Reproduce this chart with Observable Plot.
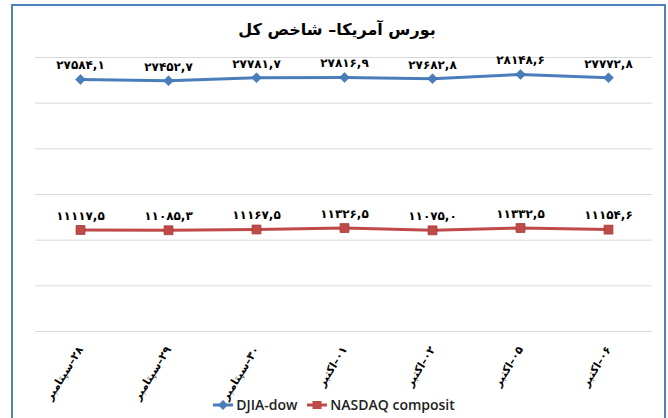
<!DOCTYPE html>
<html>
<head>
<meta charset="utf-8">
<script src="https://cdn.jsdelivr.net/npm/d3@7"></script>
<script src="https://cdn.jsdelivr.net/npm/@observablehq/plot@0.6"></script>
<style>
  html, body { margin: 0; padding: 0; background: #fff; }
  #wrap { position: relative; width: 668px; height: 418px; overflow: hidden; background: #fff; }
  #frame { position: absolute; left: 11px; top: 4px; width: 655px; height: 430px;
           border-left: 2px solid #4f81bd; border-top: 2px solid #4f81bd; border-right: 2px solid #4f81bd; box-sizing: border-box; }
  #title { position: absolute; left: 0; width: 674px; top: 20px; text-align: center;
           font-family: "DejaVu Sans", sans-serif; font-weight: bold; font-size: 16px; color: #000; direction: rtl; }
  #chart { position: absolute; left: 0; top: 0; }
  #legend { position: absolute; left: 0; width: 668px; top: 395px; text-align: center; font-family: "Open Sans", sans-serif;
            font-size: 14px; font-weight: 600; color: #222; }
  .item { display: inline-flex; align-items: center; margin: 0 5px; }
  .item svg { margin-right: 3px; }
</style>
</head>
<body>
<div id="wrap">
  <div id="frame"></div>
  <div id="chart"></div>
  <div id="title"></div>
  <div id="legend"></div>
</div>
<script>
const titleText = "بورس آمریکا– شاخص کل";
const categories = ["۲۸–سپتامبر", "۲۹–سپتامبر", "۳۰–سپتامبر", "۰۱–اکتبر", "۰۲–اکتبر", "۰۵–اکتبر", "۰۶–اکتبر"];
const djia = [27584.1, 27452.7, 27781.7, 27816.9, 27682.8, 28148.6, 27772.8];
const nasdaq = [11117.5, 11085.3, 11167.5, 11326.5, 11075.0, 11332.5, 11154.6];
const yTicks = [0, 5000, 10000, 15000, 20000, 25000, 30000];
const seriesNames = ["DJIA-dow", "NASDAQ composit"];
const seriesColors = ["#4a7ebb", "#be4b48"];

const faDigits = "۰۱۲۳۴۵۶۷۸۹";
const fmt = v => v.toFixed(1).replace(".", ",").replace(/\d/g, d => faDigits[+d]);

const dj = categories.map((c, i) => ({cat: c, v: djia[i]}));
const nq = categories.map((c, i) => ({cat: c, v: nasdaq[i]}));
const faFont = "DejaVu Sans, sans-serif";

const chart = Plot.plot({
  width: 668,
  height: 418,
  marginLeft: 35,
  marginRight: 16,
  marginTop: 57,
  marginBottom: 87,
  style: {background: "transparent", overflow: "visible"},
  x: {type: "point", domain: categories, padding: 0.5, label: null},
  y: {domain: [0, 30000], axis: null},
  marks: [
    Plot.gridY(yTicks, {stroke: "#d9d9d9", strokeOpacity: 1, strokeWidth: 1}),
    Plot.line(dj, {x: "cat", y: "v", stroke: seriesColors[0], strokeWidth: 3}),
    Plot.dot(dj, {x: "cat", y: "v", symbol: "diamond2", r: 4.5, fill: seriesColors[0], stroke: "#3d6da8", strokeWidth: 0.5}),
    Plot.line(nq, {x: "cat", y: "v", stroke: seriesColors[1], strokeWidth: 3}),
    Plot.dot(nq, {x: "cat", y: "v", symbol: "square", r: 5, fill: seriesColors[1], stroke: "#a33a37", strokeWidth: 0.8}),
    Plot.text(dj, {x: "cat", y: "v", text: d => fmt(d.v), dy: -14, fontWeight: "bold", fontSize: 12, fontFamily: faFont, fill: "#000"}),
    Plot.text(nq, {x: "cat", y: "v", text: d => fmt(d.v), dy: -14, fontWeight: "bold", fontSize: 12, fontFamily: faFont, fill: "#000"}),
    Plot.axisX({tickRotate: -58, tickSize: 0, tickPadding: 16, tickFormat: d => "\u200F" + d,
                fontWeight: "bold", fontSize: 11, fontFamily: faFont, fill: "#000", label: null})
  ]
});
document.getElementById("chart").appendChild(chart);
document.getElementById("title").textContent = titleText;

const legend = document.getElementById("legend");
seriesNames.forEach((name, i) => {
  const item = document.createElement("span");
  item.className = "item";
  const marker = i === 0
    ? `<path d="M10,1 L15,6 L10,11 L5,6 Z" fill="${seriesColors[i]}"/>`
    : `<rect x="5.5" y="2" width="9" height="8" fill="${seriesColors[i]}"/>`;
  item.innerHTML = `<svg width="20" height="12"><line x1="0" y1="6" x2="20" y2="6" stroke="${seriesColors[i]}" stroke-width="3"/>${marker}</svg><span>${name}</span>`;
  legend.appendChild(item);
});
</script>
</body>
</html>
